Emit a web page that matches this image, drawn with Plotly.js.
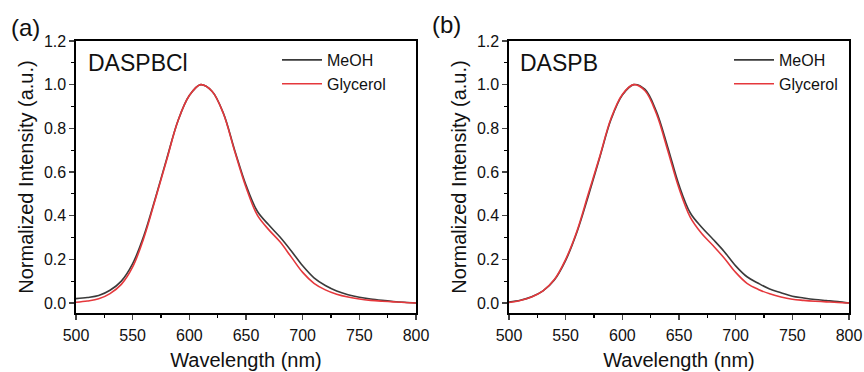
<!DOCTYPE html>
<html>
<head>
<meta charset="utf-8">
<script src="https://cdn.plot.ly/plotly-3.0.1.min.js"></script>
<style>html,body{margin:0;padding:0;background:#fff}#plot{width:864px;height:372px}</style>
</head>
<body>
<div id="plot"></div>
<script>
const wavelength = [500,510,520,530,540,550,560,570,580,590,600,610,620,630,640,650,660,670,680,690,700,710,720,730,740,750,760,770,780,790,800];

const aMeOH =     [0.020,0.025,0.034,0.058,0.100,0.180,0.310,0.480,0.660,0.835,0.950,1.000,0.970,0.870,0.700,0.540,0.420,0.358,0.302,0.238,0.170,0.115,0.080,0.055,0.038,0.026,0.018,0.012,0.007,0.003,0.000];
const aGlycerol = [0.003,0.009,0.019,0.043,0.085,0.165,0.300,0.475,0.655,0.835,0.950,1.000,0.970,0.868,0.695,0.530,0.402,0.336,0.280,0.210,0.140,0.090,0.060,0.040,0.027,0.018,0.012,0.008,0.005,0.002,0.000];

const bMeOH =     [0.004,0.012,0.028,0.055,0.105,0.195,0.325,0.490,0.665,0.840,0.952,1.000,0.978,0.878,0.715,0.540,0.412,0.347,0.292,0.235,0.170,0.120,0.090,0.064,0.047,0.031,0.023,0.016,0.011,0.006,0.000];
const bGlycerol = [0.002,0.011,0.027,0.055,0.107,0.200,0.330,0.500,0.670,0.845,0.955,1.000,0.972,0.868,0.700,0.525,0.392,0.318,0.263,0.205,0.140,0.090,0.062,0.042,0.027,0.017,0.012,0.008,0.005,0.002,0.000];

const seriesNames = ["MeOH","Glycerol"];
const panelLabels = ["(a)","(b)"];
const compoundNames = ["DASPBCl","DASPB"];
const yTicks = [0,0.2,0.4,0.6,0.8,1.0,1.2];
const xTicks = [500,550,600,650,700,750,800];

const FONT = "Arial, 'Liberation Sans', sans-serif";
const BLACK = "#3a3a3a", RED = "#e5383c";
const W = 864, H = 372;

function line(x, y, name, color, xa, ya, legend) {
  return {x, y, name, type: "scatter", mode: "lines", xaxis: xa, yaxis: ya, legend,
    line: {color, width: 1.6, shape: "spline", smoothing: 1}};
}

const data = [
  line(wavelength, aMeOH, seriesNames[0], BLACK, "x", "y", "legend"),
  line(wavelength, aGlycerol, seriesNames[1], RED, "x", "y", "legend"),
  line(wavelength, bMeOH, seriesNames[0], BLACK, "x2", "y2", "legend2"),
  line(wavelength, bGlycerol, seriesNames[1], RED, "x2", "y2", "legend2")
];

function xax(domain, anchor) {
  return {domain, anchor, range: [500, 800], tickvals: xTicks, ticks: "outside", ticklen: 5, tickwidth: 1.3,
    showline: true, linewidth: 1.6, linecolor: "#000", mirror: true, showgrid: false, zeroline: false,
    ticklabelstandoff: 2,
    tickfont: {family: FONT, size: 16, color: "#111"},
    minor: {ticks: "outside", ticklen: 3, dtick: 25, tick0: 500, tickwidth: 1.2, tickcolor: "#000", showgrid: false},
    title: {text: "Wavelength (nm)", font: {family: FONT, size: 20, color: "#111"}, standoff: 10}};
}
function yax(domain, anchor) {
  return {domain, anchor, range: [-0.046, 1.2], tickvals: yTicks, tickformat: ".1f", ticks: "outside", ticklen: 5, tickwidth: 1.3,
    showline: true, linewidth: 1.6, linecolor: "#000", mirror: true, showgrid: false, zeroline: false,
    tickfont: {family: FONT, size: 16, color: "#111"},
    minor: {ticks: "outside", ticklen: 3, dtick: 0.1, tick0: 0, tickwidth: 1.2, tickcolor: "#000", showgrid: false},
    title: {text: "Normalized Intensity (a.u.)", font: {family: FONT, size: 20, color: "#111"}, standoff: 5}};
}

const yDom = [1 - 313/H, 1 - 41/H];
const legendFont = {family: FONT, size: 16, color: "#111"};
const layout = {
  width: W, height: H, margin: {l: 0, r: 0, t: 0, b: 0},
  paper_bgcolor: "#fff", plot_bgcolor: "#fff",
  xaxis: xax([76/W, 416/W], "y"),
  yaxis: yax(yDom, "x"),
  xaxis2: xax([509/W, 849/W], "y2"),
  yaxis2: yax(yDom, "x2"),
  legend: {x: 277/W, y: 1 - 43/H, xanchor: "left", yanchor: "top", bgcolor: "rgba(0,0,0,0)",
    font: legendFont, tracegroupgap: 0, itemwidth: 40},
  legend2: {x: 729/W, y: 1 - 43/H, xanchor: "left", yanchor: "top", bgcolor: "rgba(0,0,0,0)",
    font: legendFont, tracegroupgap: 0, itemwidth: 40},
  annotations: [
    {text: panelLabels[0], xref: "paper", yref: "paper", x: 9/W, y: 1 - 27/H, xanchor: "left", yanchor: "middle", showarrow: false, font: {family: FONT, size: 24, color: "#111"}},
    {text: panelLabels[1], xref: "paper", yref: "paper", x: 430/W, y: 1 - 25/H, xanchor: "left", yanchor: "middle", showarrow: false, font: {family: FONT, size: 24, color: "#111"}},
    {text: compoundNames[0], xref: "paper", yref: "paper", x: 86/W, y: 1 - 63/H, xanchor: "left", yanchor: "middle", showarrow: false, font: {family: FONT, size: 23, color: "#111"}},
    {text: compoundNames[1], xref: "paper", yref: "paper", x: 518/W, y: 1 - 63/H, xanchor: "left", yanchor: "middle", showarrow: false, font: {family: FONT, size: 23, color: "#111"}}
  ]
};

Plotly.newPlot("plot", data, layout, {displayModeBar: false, staticPlot: true});
</script>
</body>
</html>
